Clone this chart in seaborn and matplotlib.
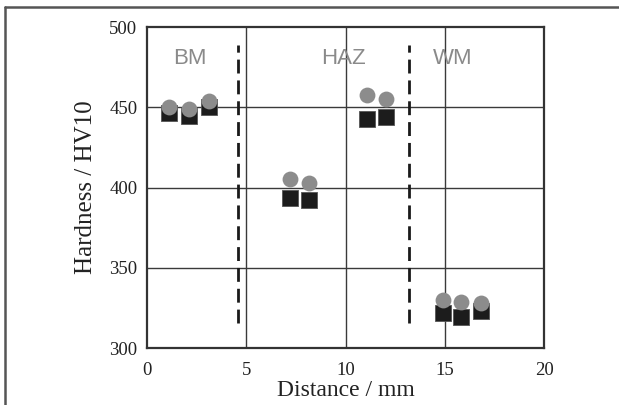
import pandas as pd
import matplotlib.pyplot as plt
import seaborn as sns
from matplotlib.lines import Line2D

# hardness profile across the weld
distance = [1.1, 2.1, 3.1, 7.2, 8.15, 11.1, 12.05, 14.9, 15.8, 16.8]
hv_circle = [450.3, 448.9, 453.8, 405.3, 402.6, 457.6, 455.1, 329.9, 328.8, 328.2]
hv_square = [446.2, 444.6, 450.3, 393.3, 392.2, 442.5, 444.1, 322.0, 319.5, 323.0]

zone_names = ['BM', 'HAZ', 'WM']
zone_x = [2.15, 9.9, 15.4]
boundaries = [4.6, 13.2]

x_ticks = [0, 5, 10, 15, 20]
y_ticks = [300, 350, 400, 450, 500]

df = pd.DataFrame({'distance': distance, 'circle': hv_circle, 'square': hv_square})

sns.set_style('white')
plt.rcParams['font.family'] = ['Liberation Serif', 'DejaVu Serif']

fig = plt.figure(figsize=(6.19, 4.05), dpi=100)
ax = fig.add_axes([0.2375, 0.1407, 0.6414, 0.7926])

# grid
for xv in x_ticks[1:-1]:
    ax.axvline(xv, color='#3a3a3a', lw=1.0, zorder=1)
for yv in y_ticks[1:-1]:
    ax.axhline(yv, color='#3a3a3a', lw=1.0, zorder=1)

# zone boundaries
for b in boundaries:
    ax.plot([b, b], [315.6, 488.8], color='#1a1a1a', lw=2.0, ls=(0, (5, 2.5)), zorder=2)

sns.scatterplot(data=df, x='distance', y='square', marker='s', s=120, color='#1c1c1c',
                edgecolor='#555555', linewidth=0.6, ax=ax, zorder=3)
sns.scatterplot(data=df, x='distance', y='circle', marker='o', s=130, color='#8c8c8c',
                edgecolor='#8c8c8c', linewidth=0, ax=ax, zorder=4)

for name, xz in zip(zone_names, zone_x):
    ax.text(xz, 480.5, name, ha='center', va='center', fontsize=16, color='#8a8a8a',
            family=['Liberation Sans', 'DejaVu Sans'])

ax.set_xlim(0, 20)
ax.set_ylim(300, 500)
ax.set_xticks(x_ticks)
ax.set_yticks(y_ticks)
ax.set_xticklabels([str(v) for v in x_ticks])
ax.set_yticklabels([str(v) for v in y_ticks])
ax.tick_params(length=0, labelsize=13.5, colors='#222222')
ax.tick_params(axis='x', pad=10)
ax.tick_params(axis='y', pad=7)
ax.set_xlabel('Distance / mm', fontsize=17, color='#222222', labelpad=1)
ax.set_ylabel('Hardness / HV10', fontsize=18, color='#222222', labelpad=9)
for sp in ax.spines.values():
    sp.set_color('#333333')
    sp.set_linewidth(1.6)

# outer frame (top and left only, bottom cut off)
fig.add_artist(Line2D([5 / 619, 5 / 619], [0, 1 - 7 / 405], transform=fig.transFigure,
                      color='#555555', lw=1.8))
fig.add_artist(Line2D([5 / 619, 1], [1 - 7 / 405, 1 - 7 / 405], transform=fig.transFigure,
                      color='#555555', lw=1.8))

fig.savefig('out.png', dpi=100)
